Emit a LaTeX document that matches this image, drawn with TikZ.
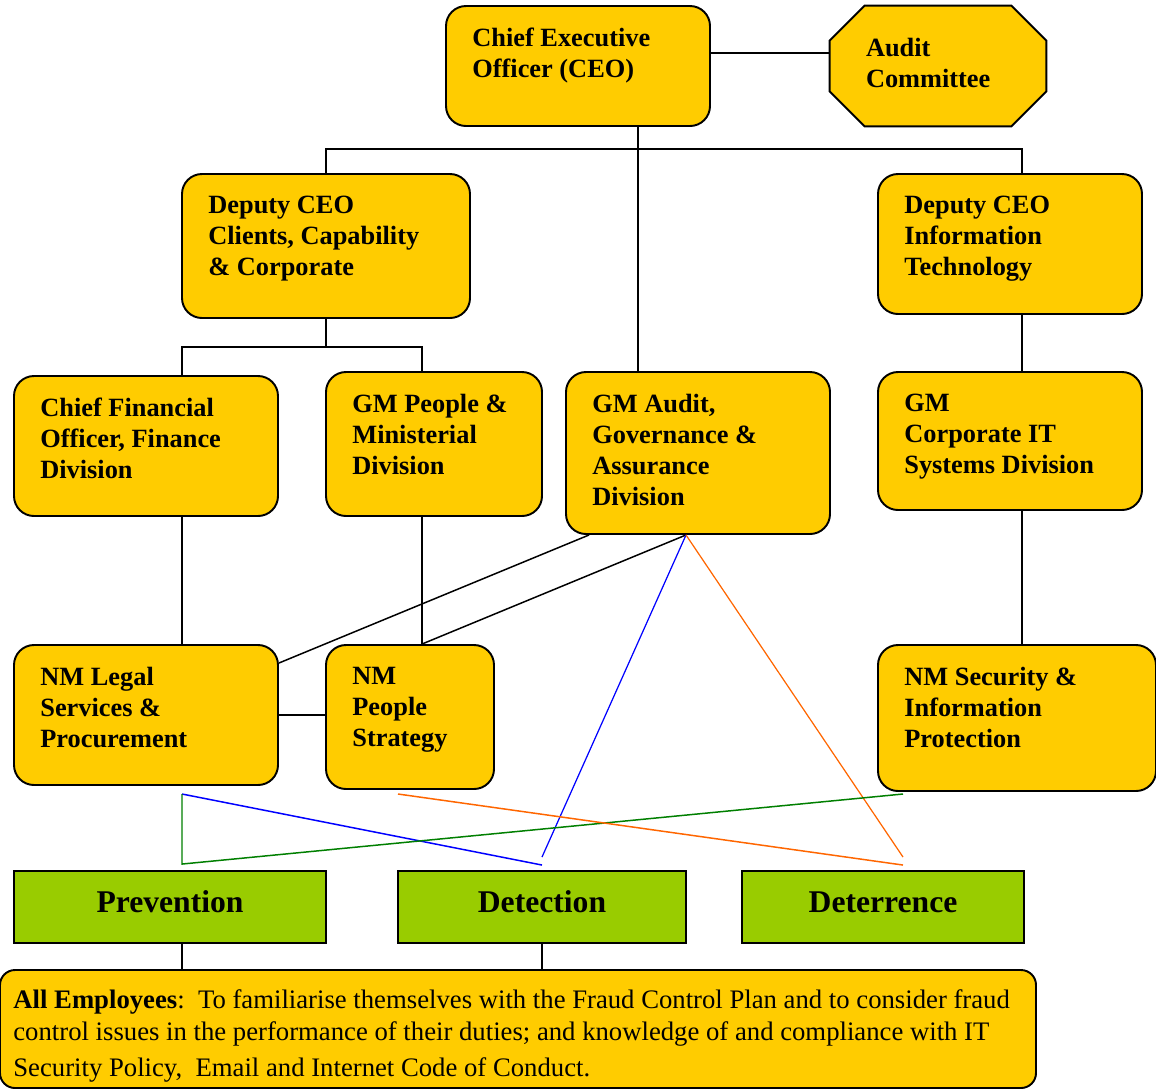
\documentclass[tikz,border=0pt]{standalone}
\usepackage{fontspec}
\setmainfont{Liberation Serif}
\usetikzlibrary{fit,calc}
\definecolor{orgyellow}{HTML}{FFCC00}
\definecolor{orggreen}{HTML}{99CC00}
\definecolor{lineorange}{HTML}{FF6600}
\definecolor{linegreen}{HTML}{007F00}
\begin{document}
\begin{tikzpicture}[x=0.02cm, y=-0.02cm,
    every node/.style={font=\bfseries\fontsize{15}{17.6}\selectfont},
    post/.style={draw, line width=1.1pt, fill=orgyellow, rounded corners=0.4cm, inner sep=0pt},
    txt/.style={anchor=north west, align=left, inner sep=0pt, xshift=0.54cm, yshift=-0.46cm},
    goal/.style={draw, line width=1.1pt, fill=orggreen, inner sep=0pt},
    gtxt/.style={anchor=center, inner sep=0pt, yshift=0.1cm, font=\bfseries\fontsize{18}{21}\selectfont},
    link/.style={line width=0.85pt},
    thinlink/.style={line width=0.7pt}]
\useasboundingbox (0,0) rectangle (1156,1090);

% Leitung
\node[post, fit={(446,6) (710,126)}, label={[txt]north west:Chief Executive\\Officer (CEO)}] (ceo) {};
\node[inner sep=0pt, fit={(830,6) (1046,126)}] (aud) {};
\draw[line width=1.1pt, fill=orgyellow]
    ($(aud.north west)+(35,0)$) -- ($(aud.north east)+(-35,0)$)
    -- ($(aud.north east)+(0,35)$) -- ($(aud.south east)+(0,-35)$)
    -- ($(aud.south east)+(-35,0)$) -- ($(aud.south west)+(35,0)$)
    -- ($(aud.south west)+(0,-35)$) -- ($(aud.north west)+(0,35)$) -- cycle;
\node[txt, xshift=0.18cm, yshift=-0.18cm] (audtxt) at (aud.north west) {Audit\\Committee};
\node[post, fit={(182,174) (470,318)}, label={[txt]north west:Deputy CEO\\Clients, Capability\\\& Corporate}] (depc) {};
\node[post, fit={(878,174) (1142,314)}, label={[txt]north west:Deputy CEO\\Information\\Technology}] (depit) {};

% General Manager
\node[post, fit={(14,376) (278,516)}, label={[txt]north west:Chief Financial\\Officer, Finance\\Division}] (cfo) {};
\node[post, fit={(326,372) (542,516)}, label={[txt]north west:GM People \&\\Ministerial\\Division}] (gmpeo) {};
\node[post, fit={(566,372) (830,534)}, label={[txt]north west:GM Audit,\\Governance \&\\Assurance\\Division}] (gmaud) {};
\node[post, fit={(878,372) (1142,510)}, label={[txt]north west:GM\\Corporate IT\\Systems Division}] (gmit) {};

% National Manager
\node[post, fit={(14,645) (278,785)}, label={[txt]north west:NM Legal\\Services \&\\Procurement}] (legal) {};
\node[post, fit={(326,645) (494,789)}, label={[txt]north west:NM\\People\\Strategy}] (nmpeo) {};
\node[post, fit={(878,645) (1156,791)}, label={[txt]north west:NM Security \&\\Information\\Protection}] (nmsec) {};

% Ziele
\node[goal, fit={(14,871) (326,943)}, label={[gtxt]center:Prevention}] (prev) {};
\node[goal, fit={(398,871) (686,943)}, label={[gtxt]center:Detection}] (det) {};
\node[goal, fit={(742,871) (1024,943)}, label={[gtxt]center:Deterrence}] (detr) {};

\node[post, rounded corners=0.3cm, fit={(0,970) (1036,1088)},
      label={[anchor=north west, align=left, inner sep=0pt, xshift=0.28cm, yshift=-0.4cm,
              font=\fontsize{15.2}{18.4}\selectfont]north west:{\textbf{All Employees}:\ \ To familiarise themselves with the Fraud Control Plan and to consider fraud\\control issues in the performance of their duties; and knowledge of and compliance with IT\\[2pt]Security Policy,\ \ Email and Internet Code of Conduct.}}] (all) {};

% Spalten
\coordinate (spine) at (638,0);
\coordinate (itcol) at (1022,0);
\coordinate (colA) at (182,0);
\coordinate (colB) at (422,0);
\coordinate (audx) at (686,0);

% Linien
\draw[link] ($(ceo.east)+(0,-13)$) -- ($(aud.west)+(0,-13)$);
\draw[link] (ceo.south -| spine) -- (gmaud.north -| spine);
\draw[link] (depc.north) -- ++(0,-24) -| (depit.north -| itcol);
\draw[link] (depit.south -| itcol) -- (gmit.north -| itcol);
\draw[link] (depc.south) -- ++(0,28) coordinate (split);
\draw[link] (cfo.north -| colA) |- (split) -| (gmpeo.north -| colB);
\draw[link] (cfo.south -| colA) -- (legal.north -| colA);
\draw[link] (gmpeo.south -| colB) -- (nmpeo.north -| colB);
\draw[link] (gmit.south -| itcol) -- (nmsec.north -| itcol);
\draw[link] (legal.east) -- (legal.east -| nmpeo.west);
\draw[link] ($(gmaud.south west)+(24,0)$) -- ($(legal.east)+(0,-52)$);
\draw[link] (gmaud.south -| audx) -- (nmpeo.north -| colB);
\draw[blue, thinlink] (gmaud.south -| audx) -- ($(det.north)+(0,-13)$);
\draw[lineorange, thinlink] (gmaud.south -| audx) -- ($(detr.north)+(20,-13)$);

% Kreuzungen ueber den Zielen
\coordinate (legfoot) at (182,794);
\coordinate (peofoot) at (398,794);
\coordinate (secfoot) at (903,794);
\draw[blue, link] (legfoot) -- ($(det.north)+(0,-5)$);
\draw[linegreen, link] (legfoot) -- ($(prev.north -| colA)+(0,-6)$) -- (secfoot);
\draw[lineorange, link] (peofoot) -- ($(detr.north)+(20,-5)$);

\draw[link] (prev.south -| colA) -- (all.north -| colA);
\draw[link] (det.south) -- (all.north -| det.south);
\end{tikzpicture}
\end{document}
